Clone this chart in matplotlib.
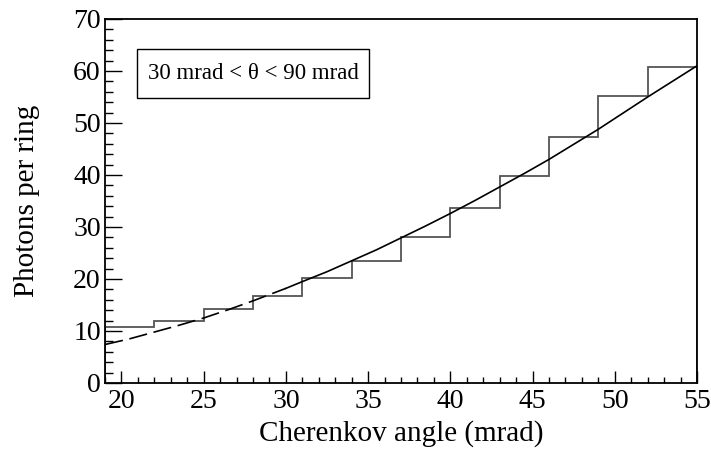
import numpy as np
import matplotlib
matplotlib.use("Agg")
import matplotlib.pyplot as plt
from matplotlib.patches import Rectangle
from matplotlib.ticker import MultipleLocator

plt.rcParams['font.family'] = ['Liberation Serif', 'DejaVu Serif']

# histogram: bin edges (mrad) and photons per ring
bin_edges = [19, 22, 25, 28, 31, 34, 37, 40, 43, 46, 49, 52, 55]
photons = [10.8, 12.0, 14.2, 16.8, 20.1, 23.5, 28.1, 33.6, 39.9, 47.3, 55.1, 60.8]

# fitted curve
fit_theta = [19, 20.5, 22, 23.5, 25, 26.5, 28, 29.5, 30, 31, 32.5, 34, 35.5, 37,
             38.5, 40, 41.5, 43, 44.5, 46, 47.5, 49, 50.5, 52, 53.5, 55]
fit_n = [7.4, 8.5, 9.8, 11.1, 12.5, 14.1, 15.8, 17.6, 18.2, 19.5, 21.4, 23.5,
         25.6, 27.9, 30.2, 32.6, 35.1, 37.7, 40.3, 43.0, 45.9, 48.8, 51.9,
         55.0, 58.0, 61.0]
fit_range_lo = 30  # solid inside the fit range, dashed below

box_text = "30 mrad < \u03b8 < 90 mrad"

fig = plt.figure(figsize=(7.11, 4.5), dpi=100)
ax = fig.add_axes([105 / 711, 67 / 450, 592 / 711, 364 / 450])

ax.stairs(photons, bin_edges, color='#555555', lw=1.3)

th = np.array(fit_theta)
nn = np.array(fit_n)
lo = th <= fit_range_lo
hi = th >= fit_range_lo
ax.plot(th[lo], nn[lo], color='black', lw=1.2, dashes=(11, 4))
ax.plot(th[hi], nn[hi], color='black', lw=1.2)

ax.set_xlim(19, 55)
ax.set_ylim(0, 70)
ax.xaxis.set_major_locator(MultipleLocator(5))
ax.xaxis.set_minor_locator(MultipleLocator(1))
ax.yaxis.set_major_locator(MultipleLocator(10))
ax.yaxis.set_minor_locator(MultipleLocator(2))
ax.tick_params(which='both', direction='in', labelsize=20, width=1)
ax.tick_params(axis='x', which='major', length=9, pad=4)
ax.tick_params(axis='x', which='minor', length=4.5)
ax.tick_params(axis='y', which='major', length=12, pad=3)
ax.tick_params(axis='y', which='minor', length=6)
for s in ax.spines.values():
    s.set_linewidth(1.3)

ax.set_xlabel('Cherenkov angle (mrad)', fontsize=21, labelpad=5)
ax.set_ylabel('Photons per ring', fontsize=21, labelpad=24)

ax.add_patch(Rectangle((0.054, 0.783), 0.392, 0.135, transform=ax.transAxes,
                       fill=False, edgecolor='black', lw=1))
ax.text(0.25, 0.85, box_text, transform=ax.transAxes, fontsize=16.5,
        ha='center', va='center')

fig.savefig('out.png', dpi=100)
